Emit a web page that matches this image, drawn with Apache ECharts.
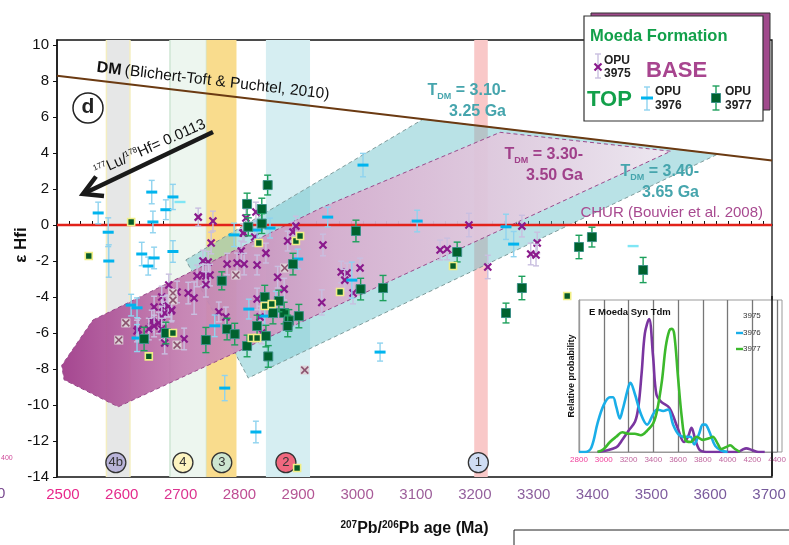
<!DOCTYPE html>
<html>
<head>
<meta charset="utf-8">
<script src="https://cdn.jsdelivr.net/npm/echarts@6/dist/echarts.min.js"></script>
<style>
html,body{margin:0;padding:0;background:#fff}
#main{width:789px;height:545px}
</style>
</head>
<body>
<div id="main"></div>
<script>
var FONT = '"Liberation Sans", Arial, sans-serif';

// axis ticks
var xTicks = [2500,2600,2700,2800,2900,3000,3100,3200,3300,3400,3500,3600,3700];
var xTickColors = ['#e8268a','#e42a8c','#dc3490','#bf4c93','#b45594','#a85b98','#9c5e9a','#935f9c','#8c5f9d','#855e9e','#7f5c9e','#7a5a9c','#75599b'];
var yTicks = [-14,-12,-10,-8,-6,-4,-2,0,2,4,6,8,10];
var insetTicks = [2800,3000,3200,3400,3600,3800,4000,4200,4400];

// reference lines
var dmLine = [[2490,8.3],[3705,3.58]];
var churLine = [[2490,0],[3705,0]];

// vertical age bands [from, to]
var bands = [[2574,2614],[2682,2744],[2744,2795],[2845,2920],[3199,3222]];
var bandColors = ['#e6e7e7','#edf6ef','#f9dc8d','#d6eef2','#f9c8c8'];
var bandEdges = ['#f4eec0','#cfe6d4',null,null,null];

// numbered circles at the bottom
var circleNames = ['4b','4','3','2','1'];
var circleX = [2590,2704,2770,2879,3206];
var circleY = -13.2;
var circleColors = ['#b9b4d9','#fdf4c0','#cde6d0','#f0687f','#cfdcf3'];

// T_DM evolution bands
var tealBand = [[2709,-1.94],[3112,5.88],[3613,3.94],[2815,-8.5]];
var pinkBand = [[2551,-5.28],[2942,1.0],[3243,5.15],[3533,4.1],[2594,-10.1],[2502,-8.6],[2498,-7.8]];

// OPU 3975 (BASE) [age, eHf, 2s]
var opu3975 = [
  [2730,0.44,0.5],[2755,0.22,0.55],[2752,-1.0,0.6],[2803,-1.44,0.55],[2808,-0.44,0.5],
  [2738,-2.0,0.6],[2747,-2.06,0.6],[2779,-2.17,0.6],[2796,-2.11,0.55],[2808,-2.17,0.6],
  [2830,-2.22,0.55],[2845,-1.56,0.55],[2728,-2.83,0.6],[2738,-2.78,0.6],[2743,-2.83,0.65],
  [2750,-2.78,0.6],[2743,-3.3,0.7],[2680,-3.33,0.6],[2694,-3.72,0.6],[2713,-3.78,0.6],
  [2723,-4.06,0.9],[2668,-4.0,0.6],[2655,-4.56,0.6],[2670,-4.56,0.6],[2677,-4.5,0.6],
  [2673,-4.89,0.6],[2684,-4.78,0.6],[2668,-5.11,0.6],[2663,-5.44,0.6],[2651,-5.33,0.6],
  [2655,-5.61,0.6],[2646,-5.78,0.6],[2626,-5.89,0.6],[2668,-5.78,0.6],[2673,-6.56,0.6],
  [2706,-6.33,0.6],[2765,-4.83,0.55],[2777,-5.11,0.55],[2830,-4.11,0.6],[2865,-2.9,0.6],
  [2876,-3.56,0.6],[2835,-5.11,0.6],[2838,-6.0,0.6],[2828,0.72,0.55],[2811,0.39,0.5],
  [2806,-0.44,0.5],[2826,-0.67,0.5],[2882,-0.89,0.55],[2891,-0.39,0.55],[2896,-0.06,0.55],
  [2942,-1.11,0.6],[2940,-4.3,0.7],[2973,-2.61,0.6],[2983,-2.67,0.55],[2979,-3.06,0.6],
  [3005,-2.39,0.55],[2993,-3.78,0.6],[3190,0.0,0.65],[3141,-1.39,0.55],[3153,-1.33,0.6],
  [3280,-0.06,0.6],[3222,-2.33,0.65],[3295,-1.61,0.6],[3306,-1.0,0.6],[3304,-1.67,0.6],
  [2628,-5.8,0.6],[2679,-4.5,0.6],[2685,-4.72,0.6]
];
var opu3975Grey = [[2607,-5.44],[2595,-6.39],[2694,-6.67],[2687,-3.78],[2687,-4.17],[2794,-2.78],[2877,-2.39],[2911,-8.06]];

// OPU 3976 (TOP)
var opu3976 = [
  [2560,0.67,0.6],[2577,-0.4,0.8],[2578,-2.0,0.9],[2651,1.83,0.65],[2653,0.17,0.6],
  [2675,0.85,0.55],[2687,1.56,0.7],[2634,-1.61,0.65],[2645,-2.28,0.5],[2655,-1.83,0.6],
  [2687,-1.47,0.6],[2616,-4.45,0.6],[2626,-4.6,0.55],[2626,-6.28,0.75],[2758,-5.6,0.6],
  [2791,-0.55,0.65],[2816,-4.67,0.55],[2843,-5.06,0.5],[2852,-0.17,0.55],[2830,-0.28,0.5],
  [2899,-1.89,0.55],[2950,0.44,0.55],[2775,-9.06,0.7],[3010,3.33,0.65],[3102,0.22,0.6],
  [2991,-3.06,1.0],[3253,-0.1,0.7],[3266,-1.06,0.7],[3039,-7.06,0.5],[2862,-4.28,0.6],
  [2828,-11.5,0.6]
];
var opu3976Pale = [[2699,1.28],[3469,-1.17]];

// OPU 3977 (TOP)
var opu3977 = [
  [2848,2.22,0.55],[2813,1.17,0.6],[2838,0.89,0.6],[2838,0.08,0.55],[2815,-0.1,0.5],
  [2891,-2.17,0.6],[2770,-3.1,0.5],[2843,-4.0,0.65],[2901,-5.06,0.65],[2876,-4.89,0.6],
  [2884,-5.3,0.6],[2882,-5.61,0.6],[2830,-5.61,0.6],[2779,-5.78,0.6],[2792,-6.06,0.6],
  [2743,-6.39,0.7],[2813,-6.72,0.6],[2845,-6.17,0.6],[2849,-7.3,0.6],[2675,-6.0,0.6],
  [2638,-6.33,0.65],[2867,-4.22,0.6],[2857,-4.89,0.6],[2998,-0.33,0.6],[3006,-3.56,0.6],
  [3044,-3.5,0.7],[3170,-1.5,0.55],[3280,-3.5,0.65],[3253,-4.89,0.55],[3377,-1.22,0.65],
  [3399,-0.67,0.55],[3486,-2.5,0.7]
];
var opu3977Small = [
  [2616,0.17],[2544,-1.72],[2646,-7.3],[2687,-6.0],[2833,-1.0],[2896,-0.89],[2903,-0.61],
  [2971,-3.72],[3163,-2.28],[2843,-4.5],[2855,-4.39],[2821,-6.28],[2830,-6.28],[3357,-3.94],[2898,-13.5]
];

// inset: relative probability of T_DM
var prob3975 = [[2950,0],[3000,0.007],[3100,0.03],[3150,0.08],[3200,0.14],[3253,0.2],[3280,0.3],[3306,0.52],[3332,0.78],[3366,0.875],[3398,0.63],[3425,0.38],[3464,0.33],[3530,0.29],[3596,0.16],[3648,0.066],[3680,0.1],[3709,0.16],[3740,0.08],[3780,0.01],[3850,0],[4080,0],[4120,0.015],[4150,0.024],[4200,0.012],[4250,0],[4300,0]];
var prob3976 = [[2800,0],[2850,0],[2900,0.03],[2950,0.19],[3000,0.31],[3050,0.36],[3075,0.36],[3100,0.3],[3130,0.22],[3150,0.27],[3200,0.43],[3215,0.455],[3250,0.385],[3300,0.25],[3350,0.18],[3400,0.25],[3430,0.28],[3480,0.27],[3520,0.28],[3560,0.18],[3600,0.12],[3650,0.1],[3700,0.1],[3730,0.05],[3770,0.12],[3800,0.18],[3820,0.18],[3850,0.14],[3900,0.04],[3950,0.01],[4000,0]];
var prob3977 = [[2950,0],[3000,0.02],[3050,0.066],[3100,0.1],[3150,0.13],[3200,0.12],[3250,0.12],[3300,0.11],[3350,0.14],[3400,0.19],[3430,0.27],[3470,0.47],[3500,0.69],[3530,0.8],[3550,0.81],[3570,0.77],[3600,0.49],[3630,0.23],[3660,0.077],[3700,0.066],[3750,0.1],[3800,0.08],[3850,0.09],[3880,0.1],[3920,0.055],[3950,0.02],[4000,0.037],[4020,0.044],[4060,0.02],[4100,0]];

var minorTicks = [];
for (var t = 2510; t <= 3700; t += 20) minorTicks.push(t);

function bar(ch, api, x, y, e, color, cap, lw) {
  if (!(e > 0)) return;
  var a = api.coord([x, y + e]), b = api.coord([x, y - e]);
  var st = {stroke: color, lineWidth: lw};
  ch.push({type:'line', shape:{x1:a[0],y1:a[1],x2:b[0],y2:b[1]}, style:st});
  ch.push({type:'line', shape:{x1:a[0]-cap,y1:a[1],x2:a[0]+cap,y2:a[1]}, style:st});
  ch.push({type:'line', shape:{x1:b[0]-cap,y1:b[1],x2:b[0]+cap,y2:b[1]}, style:st});
}

function cross(ch, p, s, color, lw) {
  ch.push({type:'line', shape:{x1:p[0]-s,y1:p[1]-s,x2:p[0]+s,y2:p[1]+s}, style:{stroke:color,lineWidth:lw}});
  ch.push({type:'line', shape:{x1:p[0]-s,y1:p[1]+s,x2:p[0]+s,y2:p[1]-s}, style:{stroke:color,lineWidth:lw}});
}

function pointSeries(data, kind, z) {
  return {
    type: 'custom', data: data, z: z, silent: true,
    dimensions: ['x','y','e'], encode: {x: 0, y: 1},
    renderItem: function (params, api) {
      var x = api.value(0), y = api.value(1), e = api.value(2);
      var p = api.coord([x, y]);
      var ch = [];
      if (kind === 'purple') {
        bar(ch, api, x, y, e, '#c9bfe0', 3, 1.4);
        cross(ch, p, 3.5, '#8a1a8c', 2.2);
      } else if (kind === 'grey') {
        ch.push({type:'rect', shape:{x:p[0]-4.5,y:p[1]-4.5,width:9,height:9}, style:{fill:'#ddd2d8'}});
        cross(ch, p, 3.5, '#8c5470', 1.6);
      } else if (kind === 'cyan') {
        bar(ch, api, x, y, e, '#8fd3ef', 3, 1.4);
        ch.push({type:'rect', shape:{x:p[0]-5.5,y:p[1]-1.5,width:11,height:3}, style:{fill:'#00b4ee'}});
      } else if (kind === 'palecyan') {
        ch.push({type:'rect', shape:{x:p[0]-5.5,y:p[1]-1.2,width:11,height:2.4}, style:{fill:'#7fe6f5'}});
      } else if (kind === 'green') {
        bar(ch, api, x, y, e, '#1da05c', 3.5, 1.4);
        ch.push({type:'rect', shape:{x:p[0]-4.5,y:p[1]-4.5,width:9,height:9}, style:{fill:'#00622e', stroke:'#3b8f86', lineWidth:1}});
      } else {
        ch.push({type:'rect', shape:{x:p[0]-3.5,y:p[1]-3.5,width:7,height:7}, style:{fill:'#075c28', stroke:'#f0ee86', lineWidth:1.6}});
      }
      return {type:'group', children: ch};
    }
  };
}

function polySeries(pts, style, z) {
  return {
    type: 'custom', data: [0], z: z, silent: true,
    renderItem: function (params, api) {
      return {type:'polygon', shape:{points: pts.map(function (p) { return api.coord(p); })}, style: style};
    }
  };
}

var chart = echarts.init(document.getElementById('main'));

var series = [];
series.push({
  type: 'custom', data: bands, z: 1, silent: true,
  renderItem: function (params, api) {
    var i = params.dataIndex;
    var a = api.coord([api.value(0), 10.28]), b = api.coord([api.value(1), -14]);
    var ch = [{type:'rect', shape:{x:a[0], y:a[1], width:b[0]-a[0], height:b[1]-a[1]}, style:{fill:bandColors[i]}}];
    if (bandEdges[i]) {
      ch.push({type:'line', shape:{x1:a[0],y1:a[1],x2:a[0],y2:b[1]}, style:{stroke:bandEdges[i],lineWidth:1.5}});
      ch.push({type:'line', shape:{x1:b[0],y1:a[1],x2:b[0],y2:b[1]}, style:{stroke:bandEdges[i],lineWidth:1.5}});
    }
    return {type:'group', children: ch};
  }
});
series.push(polySeries(tealBand, {fill:'rgba(100,190,200,0.45)', stroke:'#7f9c9c', lineWidth:1, lineDash:[4,3]}, 2));
series.push(polySeries(pinkBand, {
  fill: new echarts.graphic.LinearGradient(0, 0, 1, 0, [
    {offset:0, color:'rgba(160,60,138,0.95)'},
    {offset:0.2, color:'rgba(196,125,176,0.92)'},
    {offset:0.45, color:'rgba(216,172,206,0.9)'},
    {offset:0.75, color:'rgba(228,204,224,0.9)'},
    {offset:1, color:'rgba(242,232,241,0.9)'}
  ]),
  stroke:'#9a4a8c', lineWidth:1, lineDash:[4,3]
}, 3));
series.push({type:'line', data: churLine, z: 4, silent: true, showSymbol: false, lineStyle:{color:'#e2221a', width:2.6}});
series.push({type:'line', data: dmLine, z: 4, silent: true, showSymbol: false, lineStyle:{color:'#6b3a12', width:2}});
series.push({
  type: 'scatter', z: 5, silent: true, symbol: 'circle', symbolSize: 20,
  data: circleNames.map(function (n, i) {
    return {name: n, value: [circleX[i], circleY], itemStyle: {color: circleColors[i], borderColor: '#333', borderWidth: 1.3, opacity: 1}};
  }),
  label: {show: true, position: 'inside', formatter: '{b}', color: '#333', fontSize: 13, fontFamily: FONT}
});
series.push(pointSeries(opu3975, 'purple', 6));
series.push(pointSeries(opu3975Grey, 'grey', 6));
series.push(pointSeries(opu3976, 'cyan', 7));
series.push(pointSeries(opu3976Pale, 'palecyan', 7));
series.push(pointSeries(opu3977, 'green', 8));
series.push(pointSeries(opu3977Small, 'small', 9));

// inset
[[prob3975,'#7a35a0'],[prob3976,'#1aaee8'],[prob3977,'#3cb92c']].forEach(function (s) {
  series.push({type:'line', xAxisIndex:1, yAxisIndex:1, data:s[0], z:22, silent:true, showSymbol:false, smooth:0.35,
    lineStyle:{color:s[1], width:2.6}});
});

var tealTxt = '#46a5ad', pinkTxt = '#a0408a';
function tdmText(x, y, l1, l2, color) {
  return {type:'text', z:15, silent:true, style:{x:x, y:y, align:'right', verticalAlign:'middle',
    text:'{t|T}{s|DM}{t| = ' + l1 + '}\n{t|' + l2 + '}',
    rich:{t:{fontSize:16, fontWeight:'bold', fill:color, fontFamily:FONT, lineHeight:21},
          s:{fontSize:9, fontWeight:'bold', fill:color, fontFamily:FONT, verticalAlign:'bottom', lineHeight:21}}}};
}

var graphics = [
  // legend box
  {type:'rect', z:30, shape:{x:591, y:13, width:179, height:97}, style:{fill:'#a04a8c', stroke:'#333', lineWidth:1}},
  {type:'rect', z:31, shape:{x:584, y:16, width:179, height:105}, style:{fill:'#fff', stroke:'#333', lineWidth:1.2}},
  {type:'text', z:32, style:{x:590, y:36, text:'Moeda Formation', fill:'#12a04a', font:'bold 16.5px ' + FONT, verticalAlign:'middle'}},
  {type:'line', z:32, shape:{x1:598,y1:54,x2:598,y2:78}, style:{stroke:'#c9bfe0', lineWidth:1.4}},
  {type:'line', z:32, shape:{x1:595,y1:54,x2:601,y2:54}, style:{stroke:'#c9bfe0', lineWidth:1.4}},
  {type:'line', z:32, shape:{x1:595,y1:78,x2:601,y2:78}, style:{stroke:'#c9bfe0', lineWidth:1.4}},
  {type:'line', z:33, shape:{x1:594.5,y1:63.5,x2:601.5,y2:70.5}, style:{stroke:'#8a1a8c', lineWidth:2.2}},
  {type:'line', z:33, shape:{x1:594.5,y1:70.5,x2:601.5,y2:63.5}, style:{stroke:'#8a1a8c', lineWidth:2.2}},
  {type:'text', z:32, style:{x:604, y:67, text:'OPU\n3975', fill:'#222', font:'bold 12px ' + FONT, lineHeight:13, verticalAlign:'middle'}},
  {type:'text', z:32, style:{x:646, y:71, text:'BASE', fill:'#a8458f', font:'bold 22px ' + FONT, verticalAlign:'middle'}},
  {type:'text', z:32, style:{x:587, y:100, text:'TOP', fill:'#12a04a', font:'bold 22px ' + FONT, verticalAlign:'middle'}},
  {type:'line', z:32, shape:{x1:647,y1:87,x2:647,y2:110}, style:{stroke:'#8fd3ef', lineWidth:1.4}},
  {type:'line', z:32, shape:{x1:644,y1:87,x2:650,y2:87}, style:{stroke:'#8fd3ef', lineWidth:1.4}},
  {type:'line', z:32, shape:{x1:644,y1:110,x2:650,y2:110}, style:{stroke:'#8fd3ef', lineWidth:1.4}},
  {type:'rect', z:33, shape:{x:641,y:96.5,width:12,height:3}, style:{fill:'#00b4ee'}},
  {type:'text', z:32, style:{x:655, y:99, text:'OPU\n3976', fill:'#222', font:'bold 12px ' + FONT, lineHeight:14, verticalAlign:'middle'}},
  {type:'line', z:32, shape:{x1:716,y1:86,x2:716,y2:110}, style:{stroke:'#1da05c', lineWidth:1.4}},
  {type:'line', z:32, shape:{x1:712.5,y1:86,x2:719.5,y2:86}, style:{stroke:'#1da05c', lineWidth:1.4}},
  {type:'line', z:32, shape:{x1:712.5,y1:110,x2:719.5,y2:110}, style:{stroke:'#1da05c', lineWidth:1.4}},
  {type:'rect', z:33, shape:{x:711.5,y:93.5,width:9,height:9}, style:{fill:'#00622e', stroke:'#3b8f86', lineWidth:1}},
  {type:'text', z:32, style:{x:725, y:99, text:'OPU\n3977', fill:'#222', font:'bold 12px ' + FONT, lineHeight:14, verticalAlign:'middle'}},

  // panel letter
  {type:'circle', z:15, shape:{cx:88, cy:108, r:15}, style:{fill:'#fff', stroke:'#222', lineWidth:1.5}},
  {type:'text', z:16, style:{x:88, y:107, text:'d', fill:'#222', font:'bold 21px ' + FONT, align:'center', verticalAlign:'middle'}},

  // DM and CHUR labels
  {type:'text', z:15, x:213, y:81, rotation:-0.116, style:{x:0, y:0, align:'center', verticalAlign:'middle',
    text:'{b|DM} {r|(Blichert-Toft & Puchtel, 2010)}',
    rich:{b:{fontSize:16, fontWeight:'bold', fill:'#111', fontFamily:FONT}, r:{fontSize:15.5, fill:'#111', fontFamily:FONT}}}},
  {type:'text', z:15, style:{x:763, y:213, text:'CHUR (Bouvier et al. 2008)', fill:'#a84a90', font:'15px ' + FONT, align:'right', verticalAlign:'middle'}},

  // Lu/Hf arrow
  {type:'line', z:15, shape:{x1:213,y1:132,x2:86,y2:192.5}, style:{stroke:'#1a1a1a', lineWidth:4.5}},
  {type:'polyline', z:15, shape:{points:[[96,176.5],[83,194],[104,196]]}, style:{stroke:'#1a1a1a', lineWidth:4.5, lineJoin:'miter', fill:null}},
  {type:'text', z:15, x:150, y:148, rotation:0.42, style:{x:0, y:0, align:'center', verticalAlign:'middle',
    text:'{p|177}{r|Lu/}{p|178}{r|Hf= 0.0113}',
    rich:{p:{fontSize:8, fill:'#111', fontFamily:FONT, verticalAlign:'top', lineHeight:16}, r:{fontSize:15, fill:'#111', fontFamily:FONT, lineHeight:16}}}},

  // TDM labels
  tdmText(506, 101, '3.10-', '3.25 Ga', tealTxt),
  tdmText(583, 165, '3.30-', '3.50 Ga', pinkTxt),
  tdmText(699, 182, '3.40-', '3.65 Ga', tealTxt),

  // y axis title
  {type:'text', z:15, x:21, y:245, rotation:Math.PI/2, style:{x:0, y:0, text:'\u03b5 Hfi', fill:'#111', font:'bold 17px ' + FONT, align:'center', verticalAlign:'middle'}},

  // fragments of neighbouring panels
  {type:'text', z:15, style:{x:1, y:458, text:'400', fill:'#d04a9a', font:'7px ' + FONT, verticalAlign:'middle'}},
  {type:'text', z:15, style:{x:-3, y:494, text:'0', fill:'#7a4a90', font:'15px ' + FONT, verticalAlign:'middle'}},
  {type:'rect', z:15, shape:{x:514, y:530, width:280, height:30}, style:{fill:null, stroke:'#222', lineWidth:1}},

  // inset background and texts
  {type:'rect', z:20, shape:{x:579, y:300, width:203, height:152}, style:{fill:'#fff', stroke:'#999', lineWidth:1}},
  {type:'text', z:24, style:{x:589, y:312, text:'E Moeda Syn Tdm', fill:'#111', font:'bold 9.5px ' + FONT, verticalAlign:'middle'}},
  {type:'text', z:24, x:572, y:376, rotation:Math.PI/2, style:{x:0, y:0, text:'Relative probability', fill:'#111', font:'bold 9px ' + FONT, align:'center', verticalAlign:'middle'}},
  {type:'text', z:24, style:{x:743, y:316, text:'3975', fill:'#333', font:'8px ' + FONT, verticalAlign:'middle'}},
  {type:'line', z:24, shape:{x1:736,y1:333,x2:743,y2:333}, style:{stroke:'#1aaee8', lineWidth:2.4}},
  {type:'text', z:24, style:{x:743, y:333, text:'3976', fill:'#333', font:'8px ' + FONT, verticalAlign:'middle'}},
  {type:'line', z:24, shape:{x1:736,y1:349,x2:743,y2:349}, style:{stroke:'#3cb92c', lineWidth:2.4}},
  {type:'text', z:24, style:{x:743, y:349, text:'3977', fill:'#333', font:'8px ' + FONT, verticalAlign:'middle'}},
  {type:'line', z:30, shape:{x1:772,y1:296,x2:772,y2:476}, style:{stroke:'#111', lineWidth:1.5}}
];

function plain(v) { return String(v); }

chart.setOption({
  backgroundColor: '#fff',
  animation: false,
  grid: [
    {left: 57, right: 17, top: 40, bottom: 68, show: true, borderColor: '#111', borderWidth: 1.3},
    {left: 579, right: 7, top: 300, bottom: 93, show: false}
  ],
  xAxis: [{
    type: 'value', gridIndex: 0, min: 2490, max: 3705,
    name: '{p|207}{b|Pb/}{p|206}{b|Pb age (Ma)}', nameLocation: 'middle', nameGap: 43,
    nameTextStyle: {rich: {p: {fontSize: 10, fontWeight: 'bold', color: '#111', fontFamily: FONT, verticalAlign: 'top', lineHeight: 18},
                           b: {fontSize: 16, fontWeight: 'bold', color: '#111', fontFamily: FONT, lineHeight: 18}}},
    axisLine: {show: true, lineStyle: {color: '#111', width: 1.5}},
    axisTick: {show: true, inside: true, length: 4, customValues: minorTicks, lineStyle: {color: '#111'}},
    axisLabel: {customValues: xTicks, fontSize: 15, fontFamily: FONT, margin: 10, formatter: plain,
      color: function (v) { return xTickColors[xTicks.indexOf(Number(v))] || '#7a5a9c'; }},
    splitLine: {show: false}
  }, {
    type: 'value', gridIndex: 1, min: 2800, max: 4400, interval: 200, z: 21,
    axisLine: {show: true, lineStyle: {color: '#999', width: 1}},
    axisTick: {show: false},
    axisLabel: {fontSize: 8, fontFamily: FONT, margin: 4, formatter: plain,
      color: function (v) { v = Number(v); return v <= 3000 ? '#f0409c' : '#c0669f'; }},
    splitLine: {show: true, lineStyle: {color: '#777', width: 1.3}}
  }],
  yAxis: [{
    type: 'value', gridIndex: 0, min: -14, max: 10.28,
    axisLine: {show: true, lineStyle: {color: '#111', width: 1.5}},
    axisTick: {show: true, inside: false, length: 4, customValues: yTicks, lineStyle: {color: '#111'}},
    axisLabel: {customValues: yTicks, fontSize: 15, fontFamily: FONT, color: '#111', margin: 8},
    splitLine: {show: false}
  }, {
    type: 'value', gridIndex: 1, min: 0, max: 1, z: 21,
    axisLine: {show: true, lineStyle: {color: '#999'}},
    axisTick: {show: false}, axisLabel: {show: false}, splitLine: {show: false}
  }],
  series: series,
  graphic: graphics
});
</script>
</body>
</html>
